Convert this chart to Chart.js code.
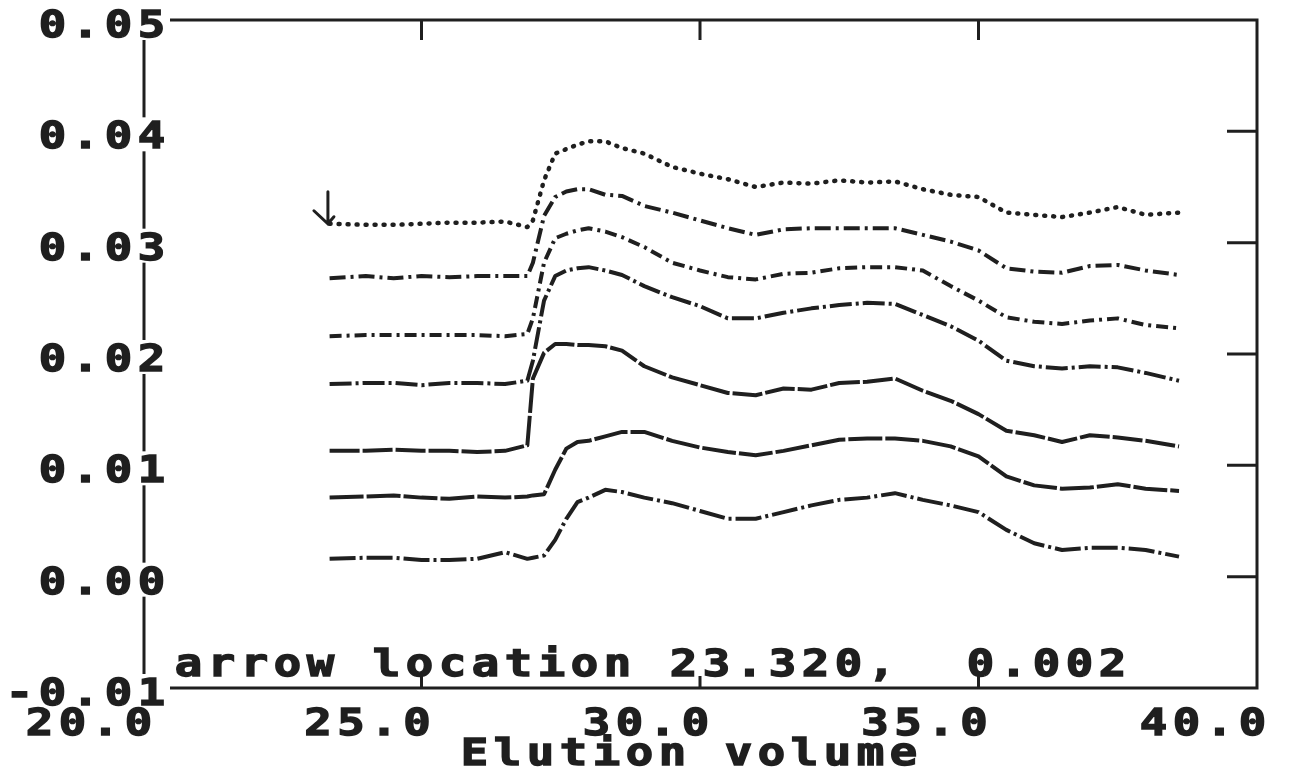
<!DOCTYPE html>
<html>
<head>
<meta charset="utf-8">
<title>Elution volume</title>
<script src="https://cdn.jsdelivr.net/npm/chart.js@4.4.1/dist/chart.umd.min.js"></script>
<style>
  html, body { margin: 0; padding: 0; background: #ffffff; }
  canvas { display: block; }
</style>
</head>
<body>
<canvas id="trace-chart" width="1291" height="772"></canvas>
<script>
// Elution volume grid shared by every trace
const volumes = [23.35, 24, 24.5, 25, 25.5, 26, 26.5, 26.9, 27.0, 27.2, 27.4, 27.6, 27.8, 28.0, 28.3, 28.6, 29.0, 29.5,
                 30, 30.5, 31, 31.5, 32, 32.5, 33, 33.5, 34, 34.5, 35, 35.5, 36, 36.5, 37, 37.5, 38, 38.6];

// Traces, top to bottom (offset chromatograms)
const trace1 = [0.0317, 0.0316, 0.0316, 0.0317, 0.0318, 0.0318, 0.0319, 0.0314, 0.0320, 0.0356, 0.0380, 0.0384, 0.0388, 0.0391, 0.0391, 0.0385, 0.0380, 0.0368,
                0.0362, 0.0357, 0.0350, 0.0354, 0.0353, 0.0356, 0.0354, 0.0355, 0.0348, 0.0343, 0.0341, 0.0327, 0.0325, 0.0323, 0.0327, 0.0332, 0.0325, 0.0327];
const trace2 = [0.0268, 0.0270, 0.0268, 0.0270, 0.0269, 0.0270, 0.0270, 0.0270, 0.0282, 0.0324, 0.0341, 0.0346, 0.0348, 0.0348, 0.0343, 0.0342, 0.0333, 0.0327,
                0.0320, 0.0313, 0.0307, 0.0312, 0.0313, 0.0313, 0.0313, 0.0313, 0.0307, 0.0301, 0.0293, 0.0277, 0.0274, 0.0273, 0.0279, 0.0280, 0.0275, 0.0271];
const trace3 = [0.0216, 0.0217, 0.0217, 0.0217, 0.0217, 0.0217, 0.0216, 0.0218, 0.0232, 0.0282, 0.0304, 0.0308, 0.0311, 0.0313, 0.0310, 0.0305, 0.0296, 0.0282,
                0.0275, 0.0269, 0.0267, 0.0272, 0.0273, 0.0277, 0.0278, 0.0278, 0.0275, 0.0261, 0.0248, 0.0233, 0.0229, 0.0227, 0.0230, 0.0232, 0.0226, 0.0223];
const trace4 = [0.0173, 0.0174, 0.0174, 0.0172, 0.0174, 0.0174, 0.0173, 0.0176, 0.0194, 0.0248, 0.0270, 0.0275, 0.0277, 0.0278, 0.0275, 0.0271, 0.0261, 0.0251,
                0.0243, 0.0232, 0.0232, 0.0237, 0.0241, 0.0244, 0.0246, 0.0245, 0.0235, 0.0225, 0.0212, 0.0194, 0.0189, 0.0187, 0.0189, 0.0188, 0.0183, 0.0176];
const trace5 = [0.0113, 0.0113, 0.0114, 0.0113, 0.0113, 0.0112, 0.0113, 0.0118, 0.0178, 0.0201, 0.0209, 0.0209, 0.0208, 0.0208, 0.0207, 0.0203, 0.0189, 0.0179,
                0.0172, 0.0165, 0.0163, 0.0169, 0.0168, 0.0174, 0.0175, 0.0178, 0.0167, 0.0158, 0.0146, 0.0131, 0.0127, 0.0121, 0.0127, 0.0125, 0.0122, 0.0117];
const trace6 = [0.0071, 0.0072, 0.0073, 0.0071, 0.0070, 0.0072, 0.0071, 0.0072, 0.0073, 0.0074, 0.0096, 0.0115, 0.0121, 0.0122, 0.0126, 0.0130, 0.0130, 0.0122,
                0.0116, 0.0112, 0.0109, 0.0113, 0.0118, 0.0123, 0.0124, 0.0124, 0.0122, 0.0117, 0.0108, 0.0090, 0.0082, 0.0079, 0.0080, 0.0083, 0.0079, 0.0077];
const trace7 = [0.0016, 0.0017, 0.0017, 0.0015, 0.0015, 0.0016, 0.0022, 0.0016, 0.0017, 0.0019, 0.0033, 0.0052, 0.0067, 0.0071, 0.0078, 0.0076, 0.0071, 0.0066,
                0.0059, 0.0052, 0.0052, 0.0058, 0.0064, 0.0069, 0.0071, 0.0075, 0.0069, 0.0064, 0.0058, 0.0042, 0.0030, 0.0024, 0.0026, 0.0026, 0.0024, 0.0018];

// Axis ticks and annotation
const xTicks = [20, 25, 30, 35, 40];
const yTicks = [0.05, 0.04, 0.03, 0.02, 0.01, 0.00, -0.01];
const xInnerTicks = [25, 30, 35];
const yInnerTicks = [0.04, 0.03, 0.02, 0.01, 0.00];
const xTitle = 'Elution volume';
const arrowVolume = 23.32;
const arrowValue = 0.002;

const traces = [trace1, trace2, trace3, trace4, trace5, trace6, trace7];
const dashes = [[1, 8], [16, 5, 3, 5], [12, 5, 3, 5], [22, 4, 3, 4], [30, 3], [34, 3], [26, 4, 3, 4]];

const INK = '#1f1f1f';
const FONT = 'bold 38px "DejaVu Sans Mono"';
const PITCH = 33;

// draw text one character per fixed cell, like the plotter font
function drawCells(ctx, text, left, baseline) {
    ctx.save();
    ctx.font = FONT;
    ctx.fillStyle = INK;
    ctx.strokeStyle = INK;
    ctx.lineWidth = 1.4;
    ctx.textAlign = 'center';
    ctx.textBaseline = 'alphabetic';
    for (let i = 0; i < text.length; i++) {
        ctx.save();
        ctx.translate(left + PITCH * i + PITCH / 2, baseline);
        ctx.scale(1.2, 1);
        ctx.fillText(text[i], 0, 0);
        ctx.strokeText(text[i], 0, 0);
        ctx.restore();
    }
    ctx.restore();
}

const framePlugin = {
    id: 'frame',
    beforeDatasetsDraw(chart) {
        const { ctx, chartArea: a, scales: { x, y } } = chart;
        ctx.save();
        ctx.strokeStyle = INK;
        ctx.lineWidth = 3;
        ctx.lineCap = 'butt';

        // box
        ctx.beginPath();
        ctx.moveTo(a.left + 1, a.top);
        ctx.lineTo(a.right, a.top);
        ctx.lineTo(a.right, a.bottom);
        ctx.lineTo(a.left + 1, a.bottom);
        ctx.closePath();
        ctx.stroke();

        // inner ticks: top hangs down, bottom sticks up, right points in
        ctx.beginPath();
        xInnerTicks.forEach(v => {
            const px = x.getPixelForValue(v);
            ctx.moveTo(px, a.top);
            ctx.lineTo(px, a.top + 20);
            ctx.moveTo(px, a.bottom);
            ctx.lineTo(px, a.bottom - 12);
        });
        yInnerTicks.forEach(v => {
            const py = y.getPixelForValue(v);
            ctx.moveTo(a.right, py);
            ctx.lineTo(a.right - 30, py);
        });
        ctx.stroke();

        // y labels sit across the left axis and break it
        yTicks.forEach(v => {
            const text = v.toFixed(2);
            const py = y.getPixelForValue(v) + 3;
            const right = a.left + 25;
            const left = right - text.length * PITCH;
            ctx.fillStyle = '#ffffff';
            ctx.fillRect(left - 4, py - 17, text.length * PITCH + 6, 34);
            drawCells(ctx, text, left, py + 14);
        });

        // x labels
        xTicks.forEach(v => {
            const text = v.toFixed(1);
            const right = x.getPixelForValue(v) + 12;
            drawCells(ctx, text, right - text.length * PITCH, a.bottom + 47);
        });

        // caption and axis title
        const caption = 'arrow location ' + arrowVolume.toFixed(3) + ',  ' + arrowValue.toFixed(3);
        drawCells(ctx, caption, a.left + 29, a.bottom - 12);
        const mid = x.getPixelForValue(29.8);
        drawCells(ctx, xTitle, mid - xTitle.length * PITCH / 2, a.bottom + 77);
        ctx.restore();
    },
    afterDatasetsDraw(chart) {
        const { ctx, scales: { x, y } } = chart;
        const px = x.getPixelForValue(arrowVolume);
        const tip = y.getPixelForValue(trace1[0]);
        ctx.save();
        ctx.strokeStyle = INK;
        ctx.lineWidth = 3;
        ctx.lineCap = 'round';
        ctx.beginPath();
        ctx.moveTo(px, tip - 32);
        ctx.lineTo(px, tip);
        ctx.moveTo(px - 14, tip - 13);
        ctx.lineTo(px, tip);
        ctx.lineTo(px + 6, tip - 7);
        ctx.stroke();
        ctx.restore();
    }
};

const ctx = document.getElementById('trace-chart').getContext('2d');
const chart = new Chart(ctx, {
    type: 'line',
    data: {
        datasets: traces.map((trace, i) => ({
            label: 'Trace ' + (i + 1),
            data: volumes.map((v, j) => ({ x: v, y: trace[j] })),
            borderColor: INK,
            borderWidth: i === 0 ? 4.5 : 4,
            borderDash: dashes[i],
            borderCapStyle: i === 0 ? 'round' : 'butt',
            borderJoinStyle: 'round',
            pointRadius: 0,
            tension: 0,
            fill: false
        }))
    },
    options: {
        responsive: false,
        animation: false,
        devicePixelRatio: 1,
        layout: {
            padding: { left: 143, right: 34, top: 20, bottom: 84 }
        },
        plugins: {
            legend: { display: false },
            tooltip: { enabled: false }
        },
        scales: {
            x: { type: 'linear', min: 20, max: 40, display: false },
            y: { type: 'linear', min: -0.01, max: 0.05, display: false }
        }
    },
    plugins: [framePlugin]
});
</script>
</body>
</html>
